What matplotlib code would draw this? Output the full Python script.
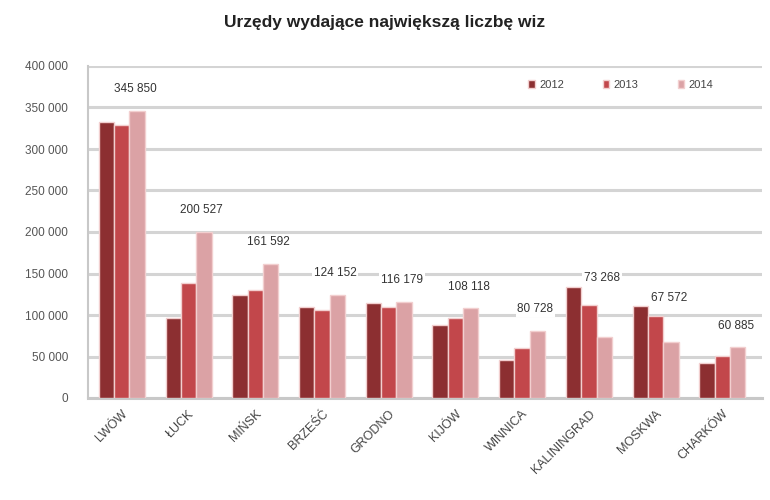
import matplotlib
matplotlib.use("Agg")
import matplotlib.pyplot as plt
import numpy as np
from matplotlib.ticker import FuncFormatter

categories = ["LWÓW", "ŁUCK", "MIŃSK", "BRZEŚĆ", "GRODNO", "KIJÓW", "WINNICA",
              "KALININGRAD", "MOSKWA", "CHARKÓW"]
years = ["2012", "2013", "2014"]
v2012 = [332500, 96000, 124000, 110000, 114000, 88000, 46000, 134000, 111000, 42000]
v2013 = [329000, 138500, 130000, 106000, 110000, 96000, 60000, 112000, 99000, 50500]
v2014 = [345850, 200527, 161592, 124152, 116179, 108118, 80728, 73268, 67572, 60885]
colors = ["#8c2f31", "#c2474b", "#dba2a5"]

plt.rcParams['font.family'] = ['Liberation Sans', 'DejaVu Sans']

fig = plt.figure(figsize=(7.7, 5.0), dpi=100)
ax = fig.add_axes([0.114, 0.204, 0.876, 0.664])

x = np.arange(len(categories))
w = 0.23
series = [v2012, v2013, v2014]
for i, (vals, c, yr) in enumerate(zip(series, colors, years)):
    ax.bar(x + (i - 1) * w, vals, width=w, color=c, edgecolor="#f2cfcf",
           linewidth=1.0, label=yr, zorder=3)

ax.set_ylim(0, 400000)
ax.set_xlim(-0.51, 9.6)
ax.set_yticks(np.arange(0, 400001, 50000))
ax.yaxis.set_major_formatter(FuncFormatter(lambda v, p: f"{int(v):,}".replace(",", " ")))
ax.grid(axis="y", color="#d4d4d4", linewidth=2.2, zorder=0)
ax.set_axisbelow(True)
for s in ["top", "right"]:
    ax.spines[s].set_visible(False)
ax.spines["left"].set_color("#c8c8c8")
ax.spines["left"].set_linewidth(1.5)
ax.spines["bottom"].set_color("#c8c8c8")
ax.spines["bottom"].set_linewidth(2.2)
ax.tick_params(axis="y", labelsize=8.5, colors="#555555", length=0, pad=14)
ax.tick_params(axis="x", length=0, pad=7)
ax.set_xticks(x)
ax.set_xticklabels(categories, rotation=45, ha="right", rotation_mode="anchor",
                   fontsize=9, color="#444444")

# data labels for 2014
for xi, a, b, c in zip(x, v2012, v2013, v2014):
    ytxt = max(c + 26000, max(a, b, c) + 10000)
    lab = f"{c:,}".replace(",", " ")
    ax.text(xi + 0.2, ytxt, lab, ha="center", va="center", fontsize=8.5,
            color="#333333", zorder=5,
            bbox=dict(boxstyle="square,pad=0.15", fc="white", ec="none"))

ax.legend(loc="center", bbox_to_anchor=(0.79, 0.943), ncol=3, frameon=False,
          fontsize=8, handlelength=0.6, handleheight=0.6, columnspacing=3.5,
          handletextpad=0.4, labelcolor="#444444")

fig.suptitle("Urzędy wydające największą liczbę wiz", y=0.97, fontsize=12.5,
             fontweight="bold", color="#222222")

fig.savefig("out.png", dpi=100)
